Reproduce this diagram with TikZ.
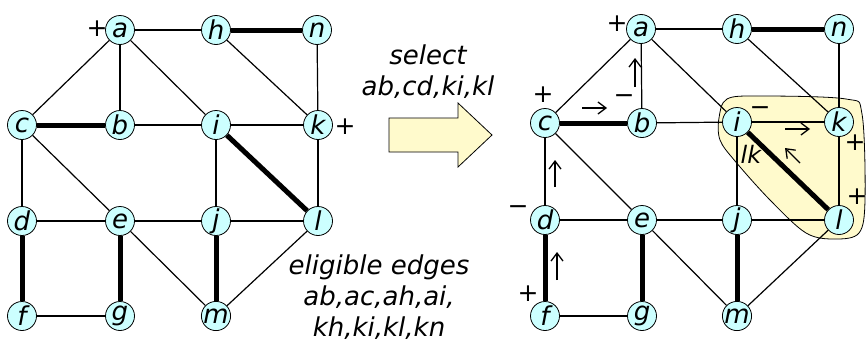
\documentclass[tikz,border=0pt]{standalone}
\usepackage{fontspec}
\setmainfont{DejaVu Sans}
\usetikzlibrary{arrows.meta}
\pgfdeclarelayer{bg}
\pgfdeclarelayer{edgelayer}
\pgfsetlayers{bg,edgelayer,main}
\begin{document}
\begin{tikzpicture}[x=1pt,y=-1pt,
  vtx/.style={circle,draw=black,line width=0.8pt,fill=nodecyan,minimum size=29pt,inner sep=0pt,font=\fontsize{26}{26}\selectfont\itshape},
  edge/.style={line width=1.2pt},
  thk/.style={line width=5pt},
  note/.style={font=\fontsize{25}{25}\selectfont,inner sep=0pt},
  marrow/.style={line width=1.3pt,-{Straight Barb[length=8pt,width=12pt,line width=1.3pt]}},
  lbl/.style={font=\fontsize{26}{31}\selectfont\itshape,align=center,inner sep=0pt}]
\definecolor{nodecyan}{RGB}{204,255,255}
\definecolor{paleyel}{RGB}{255,250,204}
\useasboundingbox (0,0) rectangle (867,343);
% ---------- left graph ----------
\node[vtx] (a) at (120,30) {a};
\node[vtx] (h) at (216,30) {h};
\node[vtx] (n) at (317,30) {n};
\node[vtx] (c) at (22,125) {c};
\node[vtx] (b) at (120,125) {b};
\node[vtx] (i) at (216,125) {i};
\node[vtx] (k) at (318,125) {k};
\node[vtx] (d) at (22,221) {d};
\node[vtx] (e) at (120,221) {e};
\node[vtx] (j) at (216,221) {j};
\node[vtx] (l) at (318,221) {l};
\node[vtx] (f) at (22,316) {f};
\node[vtx] (g) at (120,316) {g};
\node[vtx] (m) at (216,316) {m};
\begin{pgfonlayer}{edgelayer}
\draw[edge] (a) -- (h); \draw[thk] (h) -- (n);
\draw[edge] (a) -- (c); \draw[edge] (a) -- (b); \draw[edge] (a) -- (i);
\draw[edge] (h) -- (k); \draw[edge] (n) -- (k);
\draw[thk] (c) -- (b); \draw[edge] (b) -- (i); \draw[edge] (i) -- (k);
\draw[thk] (i) -- (l); \draw[edge] (i) -- (j); \draw[edge] (k) -- (l);
\draw[edge] (c) -- (d); \draw[edge] (c) -- (e);
\draw[edge] (d) -- (e); \draw[edge] (e) -- (j); \draw[edge] (j) -- (l);
\draw[thk] (d) -- (f); \draw[thk] (e) -- (g); \draw[edge] (e) -- (m);
\draw[thk] (j) -- (m); \draw[edge] (l) -- (m); \draw[edge] (f) -- (g);
\end{pgfonlayer}
\node[note] (pa) at (97,29) {+};
\node[note] (pk) at (345,127) {+};
% ---------- middle ----------
\draw[line width=0.8pt,fill=paleyel] (389,118) -- (458,118) -- (458,103) -- (492,135) -- (458,167) -- (458,152) -- (389,152) -- cycle;
\node[lbl] (sel) at (428,72) {select\\ab,cd,ki,kl};
\node[lbl] (elig) at (379,297) {eligible edges\\ab,ac,ah,ai,\\kh,ki,kl,kn};
% ---------- right graph ----------
\begin{pgfonlayer}{bg}
\draw[line width=0.8pt,fill=paleyel] plot[smooth cycle,tension=0.55] coordinates {(719,118) (727,99) (760,96) (846,99) (862,114) (865,200) (859,233) (835,239) (806,233) (770,200) (735,161) (720,140)};
\end{pgfonlayer}
\node[vtx] (a2) at (641,29) {a};
\node[vtx] (h2) at (737,29) {h};
\node[vtx] (n2) at (839,29) {n};
\node[vtx] (c2) at (545,123) {c};
\node[vtx] (b2) at (642,123) {b};
\node[vtx] (i2) at (737,122) {i};
\node[vtx] (k2) at (839,122) {k};
\node[vtx] (d2) at (545,220) {d};
\node[vtx] (e2) at (642,220) {e};
\node[vtx] (j2) at (737,220) {j};
\node[vtx] (l2) at (839,220) {l};
\node[vtx] (f2) at (545,316) {f};
\node[vtx] (g2) at (642,316) {g};
\node[vtx] (m2) at (737,316) {m};
\begin{pgfonlayer}{edgelayer}
\draw[edge] (a2) -- (h2); \draw[thk] (h2) -- (n2);
\draw[edge] (a2) -- (c2); \draw[edge] (a2) -- (b2); \draw[edge] (a2) -- (i2);
\draw[edge] (h2) -- (k2); \draw[edge] (n2) -- (k2);
\draw[thk] (c2) -- (b2); \draw[edge] (b2) -- (i2); \draw[edge] (i2) -- (k2);
\draw[thk] (i2) -- (l2); \draw[edge] (i2) -- (j2); \draw[edge] (k2) -- (l2);
\draw[edge] (c2) -- (d2); \draw[edge] (c2) -- (e2);
\draw[edge] (d2) -- (e2); \draw[edge] (e2) -- (j2); \draw[edge] (j2) -- (l2);
\draw[thk] (d2) -- (f2); \draw[thk] (e2) -- (g2); \draw[edge] (e2) -- (m2);
\draw[thk] (j2) -- (m2); \draw[edge] (l2) -- (m2); \draw[edge] (f2) -- (g2);
\end{pgfonlayer}
% annotations
\node[note] (r1) at (617,24) {+};
\node[note] (r3) at (624,99) {−};
\node[note] (r4) at (543,95) {+};
\node[note] (r6) at (760,111) {−};
\node[note] (r8) at (855,143) {+};
\node[note,font=\fontsize{24}{24}\selectfont\itshape] (r9) at (751,154) {lk};
\node[note] (r11) at (857,197) {+};
\node[note] (r13) at (518,210) {−};
\node[note] (r15) at (528,294) {+};
% small arrows
\coordinate (s1) at (635,87); \coordinate (t1) at (635,58);
\coordinate (s2) at (582,108); \coordinate (t2) at (607,108);
\coordinate (s3) at (555,187); \coordinate (t3) at (555,160);
\coordinate (s4) at (557,280); \coordinate (t4) at (557,252);
\coordinate (s5) at (785,129); \coordinate (t5) at (810,129);
\coordinate (s6) at (800,163); \coordinate (t6) at (785,148);
\draw[marrow] (s1) -- (t1);
\draw[marrow] (s2) -- (t2);
\draw[marrow] (s3) -- (t3);
\draw[marrow] (s4) -- (t4);
\draw[marrow] (s5) -- (t5);
\draw[marrow] (s6) -- (t6);
\end{tikzpicture}
\end{document}
